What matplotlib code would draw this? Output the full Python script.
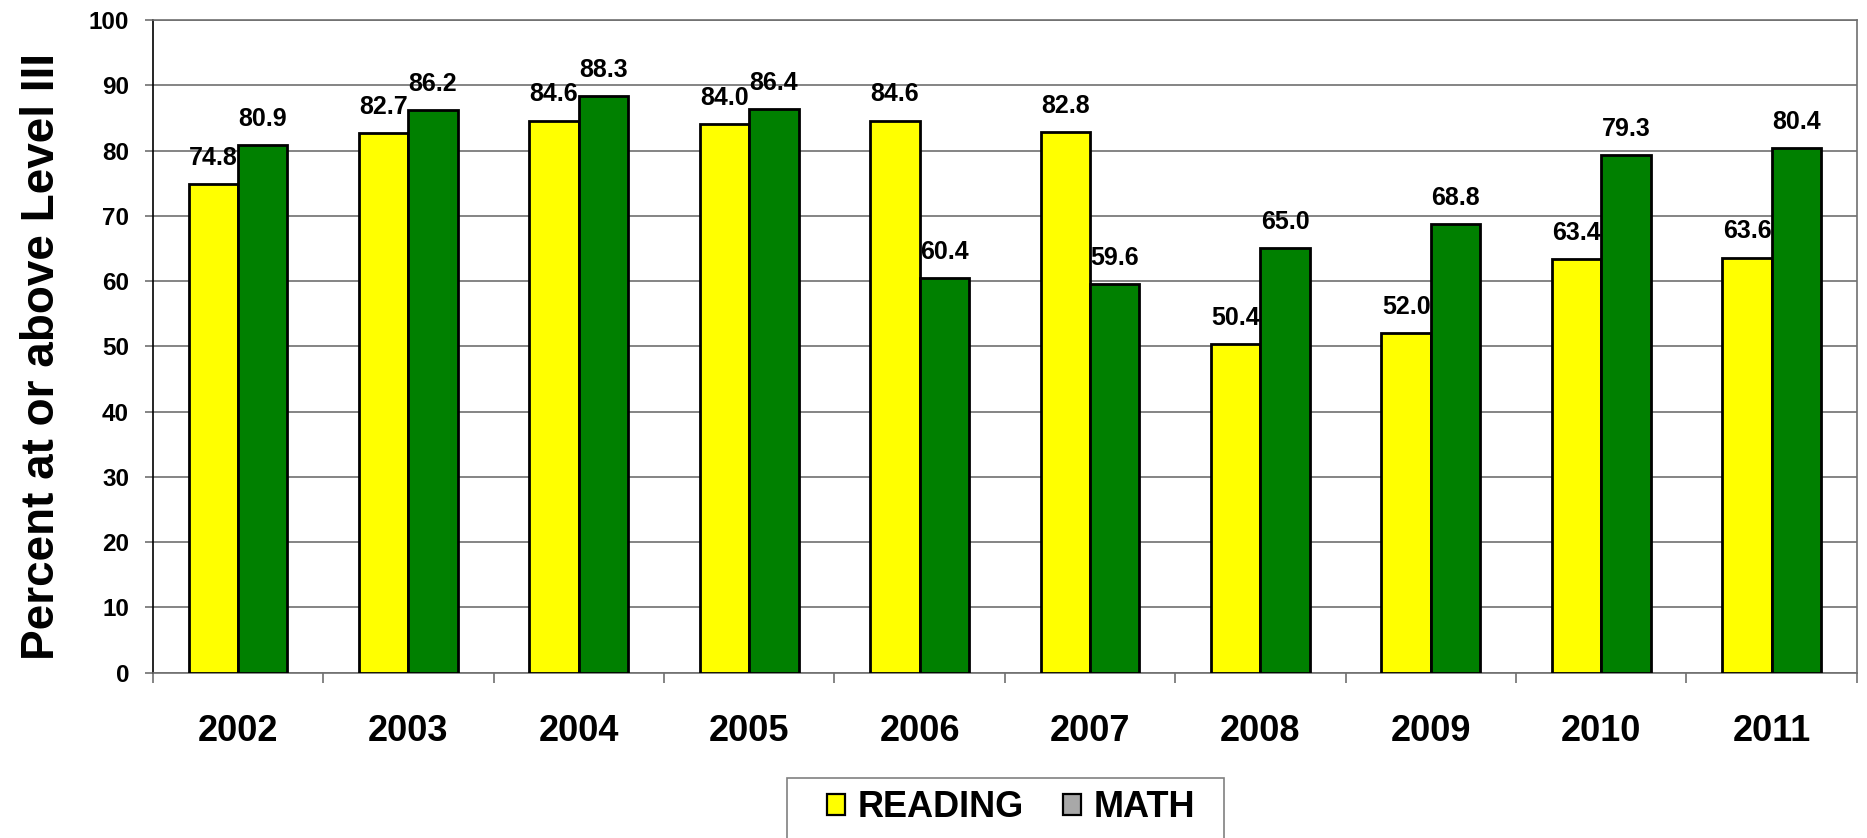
#!/usr/bin/env python
# -*- coding: utf-8 -*-
import numpy as np
from matplotlib import pyplot as plt
from matplotlib.patches import Rectangle, Patch

years = ['2002', '2003', '2004', '2005', '2006', '2007', '2008', '2009', '2010', '2011']
reading = [74.8, 82.7, 84.6, 84.0, 84.6, 82.8, 50.4, 52.0, 63.4, 63.6]
math = [80.9, 86.2, 88.3, 86.4, 60.4, 59.6, 65.0, 68.8, 79.3, 80.4]

plt.rcParams['font.family'] = ['Liberation Sans', 'DejaVu Sans']
plt.rcParams['font.weight'] = 'bold'

fig = plt.figure(figsize=(18.67, 8.38), dpi=100, facecolor='white')
ax = fig.add_axes([0.0818, 0.1973, 0.9128, 0.7788])

x = np.arange(len(years))
width = 0.29
grid_color = '#707070'

ax.bar(x - width / 2, reading, width, color='#FFFF00', edgecolor='black',
       linewidth=2.0, zorder=3)
ax.bar(x + width / 2, math, width, color='#008000', edgecolor='black',
       linewidth=2.0, zorder=3)

# value labels sit a bit over each bar
for i in range(len(years)):
    ax.text(x[i] - width / 2, reading[i] + 4, '%.1f' % reading[i],
            ha='center', va='center', fontsize=18, fontweight='bold')
    ax.text(x[i] + width / 2, math[i] + 4, '%.1f' % math[i],
            ha='center', va='center', fontsize=18, fontweight='bold')

ax.set_xlim(-0.5, len(years) - 0.5)
ax.set_ylim(0, 100)
ax.set_yticks(range(0, 101, 10))
ax.yaxis.grid(True, color=grid_color, linewidth=1.2, zorder=0)
ax.set_axisbelow(True)

ax.set_xticks(x)
ax.set_xticklabels(years, fontsize=26, fontweight='bold')
ax.set_xticks(np.arange(-0.5, len(years)), minor=True)
ax.tick_params(axis='x', which='major', length=0, pad=30)
ax.tick_params(axis='x', which='minor', length=7, width=1.2, color=grid_color,
               direction='out')
ax.tick_params(axis='y', length=6, width=1.2, color=grid_color, pad=11,
               labelsize=17.5)
for lab in ax.get_yticklabels():
    lab.set_fontweight('bold')

ax.spines['left'].set_color('black')
ax.spines['left'].set_linewidth(1.2)
for s in ['top', 'right', 'bottom']:
    ax.spines[s].set_color(grid_color)
    ax.spines[s].set_linewidth(1.2)

fig.text(0.0225, 0.575, 'Percent at or above Level III', rotation=90,
         ha='center', va='center', fontsize=33, fontweight='bold')

# legend box runs off the bottom edge like the original
fig.patches.append(Rectangle((0.4215, -0.02), 0.234, 0.0916,
                             transform=fig.transFigure, facecolor='white',
                             edgecolor='#808080', linewidth=1.2))
handles = [Patch(facecolor='#FFFF00', edgecolor='black', linewidth=1.6),
           Patch(facecolor='#a8a8a8', edgecolor='black', linewidth=1.6)]
fig.legend(handles, ['READING', 'MATH'], loc='center',
           bbox_to_anchor=(0.5415, 0.036), ncol=2, frameon=False,
           prop={'size': 26, 'weight': 'bold'}, handlelength=0.5,
           handleheight=0.5, handletextpad=0.33, columnspacing=1.1)

fig.savefig('out.png', dpi=100)
